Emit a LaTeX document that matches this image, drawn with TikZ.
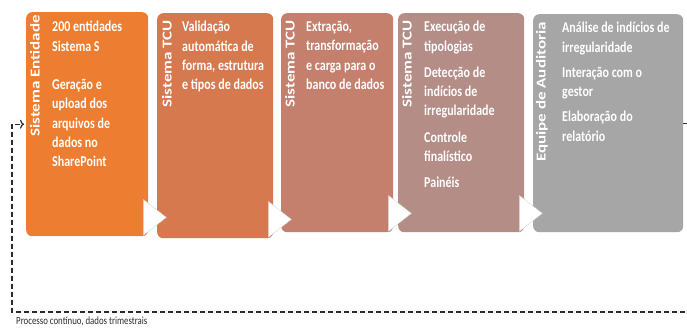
\documentclass[tikz,border=0pt]{standalone}
\usepackage{fontspec}
\usepackage{graphicx}
\usetikzlibrary{arrows.meta}
\setmainfont{Carlito}
\newfontfamily\narrowfont{Carlito}[FakeStretch=0.8]
\definecolor{entorange}{HTML}{ED7D31}
\definecolor{tcua}{HTML}{D7794F}
\definecolor{tcub}{HTML}{C57F6D}
\definecolor{tcuc}{HTML}{B58D87}
\definecolor{audgray}{HTML}{A6A6A6}
\definecolor{loopgray}{HTML}{2B2B2B}
\begin{document}
\begin{tikzpicture}[x=1pt, y=-1pt,
	stage/.style={rounded corners=6pt, anchor=north west, inner sep=0pt},
	stagetext/.style={anchor=north west, inner sep=0pt, align=left, text=white,
		font=\narrowfont\bfseries\fontsize{15}{19.3}\selectfont},
	side/.style={rotate=90, anchor=east, inner sep=0pt, text=white,
		font=\bfseries\fontsize{17}{17}\selectfont},
	loopline/.style={draw=loopgray, line width=1.2pt, dash pattern=on 5pt off 3pt}]
	\useasboundingbox (0,0) rectangle (687,328);
	\node[stage, fill=entorange, minimum width=122pt, minimum height=224pt] (b1) at (26,12) {};
	\node[stage, fill=tcua, minimum width=116pt, minimum height=225pt] (b2) at (157,13) {};
	\node[stage, fill=tcub, minimum width=112pt, minimum height=219pt] (b3) at (281,13) {};
	\node[stage, fill=tcuc, minimum width=126pt, minimum height=219pt] (b4) at (398,13) {};
	\node[stage, fill=audgray, minimum width=150pt, minimum height=218pt] (b5) at (533,14) {};
	\foreach \b in {b1,b2,b3,b4}
		\draw[fill=white, draw=black!20, line width=0.3pt] (\b.south east) ++(-5,-1) -- ++(0,-36) -- ++(23,18) -- cycle;
	\node[side] (l1) at (35,15) {\scalebox{1}[0.8]{Sistema Entidade}};
	\node[side] (l2) at (167,20) {\scalebox{1}[0.8]{Sistema TCU}};
	\node[side] (l3) at (290,20) {\scalebox{1}[0.8]{Sistema TCU}};
	\node[side] (l4) at (407,20) {\scalebox{1}[0.8]{Sistema TCU}};
	\node[side] (l5) at (542,22) {\scalebox{1}[0.8]{Equipe de Auditoria}};
	\node[stagetext] (t1) at (52,21) {200 entidades\\Sistema S\\[19.3pt]Geração e\\upload dos\\arquivos de\\dados no\\SharePoint};
	\node[stagetext] (t2) at (182,21) {Validação\\automática de\\forma, estrutura\\e tipos de dados};
	\node[stagetext] (t3) at (306,21) {Extração,\\transformação\\e carga para o\\banco de dados};
	\node[stagetext] (t4) at (424,21) {Execução de\\tipologias\\[7pt]Detecção de\\indícios de\\irregularidade\\[7pt]Controle\\finalístico\\[7pt]Painéis};
	\node[stagetext] (t5) at (562,22) {Análise de indícios de\\irregularidade\\[6pt]Interação com o\\gestor\\[6pt]Elaboração do\\relatório};
	\coordinate (rgt) at (690,312);
	\coordinate (lft) at (12,312);
	\draw[loopline, -{To[length=4pt, width=9pt]}, shorten >=2pt] (b5.east) -| (rgt) -- (lft) |- (b1.west);
	\node[anchor=base west, inner sep=0pt, text=loopgray, font=\narrowfont\fontsize{11}{11}\selectfont] (note) at (16,324.5) {Processo contínuo, dados trimestrais};
\end{tikzpicture}
\end{document}
